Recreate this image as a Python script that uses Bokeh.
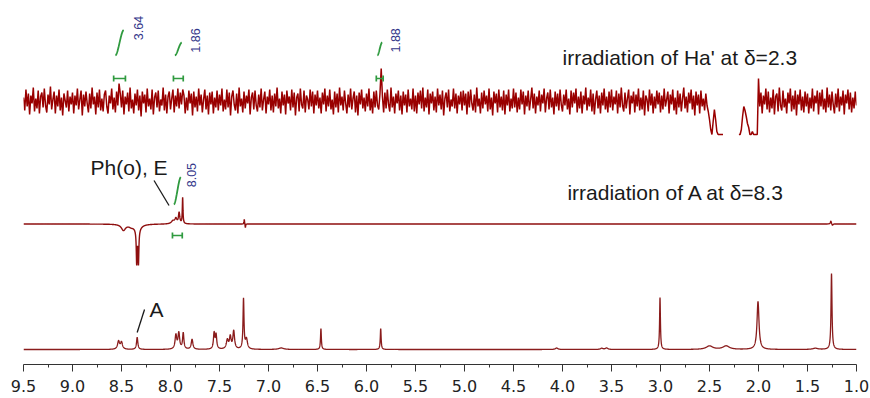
import numpy as np
from bokeh.plotting import figure
from bokeh.models import Range1d, FixedTicker, Label, PrintfTickFormatter
from bokeh.embed import file_html
from bokeh.resources import INLINE

# ---------------- data ----------------
x_ticks = [9.5, 9.0, 8.5, 8.0, 7.5, 7.0, 6.5, 6.0, 5.5, 5.0, 4.5, 4.0, 3.5, 3.0, 2.5, 2.0, 1.5, 1.0]
x_minor_ticks = [9.25, 8.75, 8.25, 7.75, 7.25, 6.75, 6.25, 5.75, 5.25, 4.75, 4.25, 3.75,
                 3.25, 2.75, 2.25, 1.75, 1.25]

# bottom: reference 1H spectrum (peak list)
ref_ppm = [8.53, 8.50, 8.34, 7.945, 7.915, 7.87, 7.78, 7.555, 7.535, 7.42, 7.39, 7.355,
           7.255, 7.225, 6.87, 6.465, 5.855, 4.06, 3.60, 3.55, 3.005, 2.50, 2.33, 2.005,
           1.42, 1.255]
ref_height = [8, 7, 12, 14, 16, 16, 10, 16, 14, 9, 12, 18,
              50, 10, 1.5, 21, 21, 1.5, 1.2, 1.5, 52, 3.5, 3.5, 48,
              1.2, 76]
ref_hwhm = [0.012, 0.012, 0.008, 0.01, 0.01, 0.008, 0.01, 0.008, 0.008, 0.012, 0.01, 0.01,
            0.006, 0.012, 0.03, 0.005, 0.005, 0.015, 0.015, 0.015, 0.005, 0.04, 0.04, 0.012,
            0.03, 0.006]

# middle: irradiation of A at 8.3 (peak list)
noe_a_ppm = [8.48, 8.40, 8.345, 8.327, 8.335, 7.975, 7.945, 7.912, 7.876, 7.247, 7.236,
             1.262, 1.245]
noe_a_height = [-6, -2, -33, -33, -6, 3, 5, 11, 26, 5, -4, 3, -1.5]
noe_a_hwhm = [0.025, 0.03, 0.005, 0.005, 0.035, 0.02, 0.012, 0.008, 0.004, 0.003, 0.003,
              0.006, 0.006]

# top: irradiation of Ha' at 2.3, sampled every 0.0125 ppm from 9.5 to 1.0 (40 per 0.5 ppm)
nan = float("nan")
noe_ha_start = 9.5
noe_ha_step = 0.0125
noe_ha_values = [
    4, -9, 12, -5, 8, -13, 6, -2, 14, -10, 3, -7, 11, -12, 5, 9, -6, 13, -4, -11,
    7, -3, 15, -8, 2, 10, -12, 6, -5, 12, -9, 4, -14, 8, 1, -6, 11, -10, 5, -3,
    9, -12, 6, -4, 13, -8, 2, 11, -14, 7, -5, 10, -2, -11, 8, -7, 14, -3, 5, -13,
    9, -6, 12, -9, 3, -10, 7, 11, -5, -12, 6, -2, 13, -8, 4, -11, 10, -4, 18, 8,
    -6, 11, -13, 5, -3, 9, -10, 14, -7, 2, -12, 8, -4, 12, -9, 6, -15, 10, -2, 7,
    -11, 13, -5, 3, -8, 12, -13, 4, 9, -6, 11, -10, 2, -4, 14, -9, 7, -12, 5, 10,
    -8, 3, 12, -11, 6, -5, 13, -7, 9, -3, 12, 6, -12, 4, -9, 11, -2, 8, -14, 10,
    -6, 5, -10, 13, -4, 7, -11, 2, 12, -8, 6, -13, 9, -3, 10, -12, 4, -6, 11, -9,
    7, -4, 13, -10, 2, -8, 12, -6, 9, -14, 5, 11, -3, -9, 8, -12, 14, -5, 3, -11,
    10, -7, 6, -2, 12, -13, 4, 9, -8, 11, -4, -10, 7, -6, 13, -9, 2, 10, -12, 5,
    -3, 12, -9, 6, -11, 8, -5, 14, -7, 3, -12, 10, -4, 7, -13, 11, -2, 5, -9, 12,
    -6, 9, -14, 4, 8, -10, 13, -3, -7, 11, -11, 6, 2, -8, 12, -5, 10, -12, 7, -4,
    11, -7, 4, -12, 9, -3, 13, -10, 6, -5, 12, -8, 2, -13, 10, -6, 8, -11, 14, -4,
    5, -9, 11, -2, -12, 7, -6, 13, -8, 3, 10, -11, 6, -14, 9, -3, 12, -7, 4, -10,
    8, -5, 13, -9, 3, -12, 10, -6, 11, -4, -8, 8, 33, 5, -11, 9, -7, 12, -3, -10,
    14, -6, 5, -12, 8, -2, 11, -9, 6, -13, 10, -4, 7, -11, 12, -5, 3, -8, 13, -10,
    6, -12, 9, -3, 11, -7, 14, -10, 4, -6, 12, -13, 8, -2, 10, -9, 5, -11, 13, -4,
    7, -8, 11, -14, 3, 9, -6, 12, -10, 2, -5, 13, -7, 8, -12, 6, -3, 10, -9, 11,
    -4, 8, -13, 10, -6, 12, -2, -9, 7, -11, 14, -5, 3, -12, 9, -7, 11, -3, 6, -10,
    13, -8, 4, -14, 10, -2, 8, -11, 12, -6, 5, -9, 11, -13, 7, -4, 12, -10, 3, -7,
    13, -6, 9, -11, 4, -8, 12, -3, 10, -13, 6, -5, 11, -9, 2, 14, -7, 8, -12, 5,
    -4, 11, -10, 7, -2, 13, -11, 3, 9, -8, 12, -6, 4, -13, 10, -5, 8, -9, 12, -3,
    -10, 7, -4, 12, -8, 3, -13, 11, -6, 9, -2, 13, -11, 5, -7, 10, -12, 6, -3, 14,
    -9, 4, -5, 12, -10, 8, -13, 2, 11, -7, 6, -12, 9, -4, 13, -8, 5, -11, 10, -6,
    12, -9, 5, -3, 11, -12, 8, -6, 14, -4, -10, 9, -7, 3, 12, -13, 6, -2, 10, -11,
    7, -5, 13, -9, 4, -8, 11, -14, 6, 2, -10, 12, -4, 8, -12, 5, -7, 11, -3, 9,
    -11, 6, -8, 13, -5, 2, 10, -12, 7, -3, 12, -9, 4, -13, 11, -6, 8, -10, 3, 14,
    -7, 5, -11, 9, -2, 12, -8, 6, -14, 10, -4, 7, -12, 11, -5, 3, -9, 8, -4, -10,
    -18, -28, -33, -20, -8, -18, -30, -33, -33, -33, -33, -33,
    nan, nan, nan, nan, nan, nan, nan, nan, nan, nan, nan, nan,
    -33, -33, -28, -15, -5, -9, -15, -22, -26, -33, -33, -30, -33, -33, -33, -33,
    23, -5, 9, -12, 6, -3, 13, -8, 10, -11, 4, -7, 12, -13, 5, 8, -10, 14, -4, -9,
    11, -6, 3, -12, 9, -2, 13, -10, 6, -8, 11, -14, 7, -3, 12, -9, 5, -11, 10, -5,
    8, -12, 4, -7, 13, -10, 6, -2, 11, -13, 9, -5, 12, -8, 3, -11, 14, -6, 7, -9,
    10, -3, -12, 8, -6, 13, -10, 5, -4, 11, -13, 7, -2, 12, -8, 9, -11, 4, -7, 10,
    -4,
]

# integrals
top_int_labels = ["3.64", "1.86", "1.88"]
top_int_values = [3.64, 1.86, 1.88]
top_int_from = [8.58, 7.97, 5.90]
top_int_to = [8.46, 7.87, 5.83]

mid_int_labels = ["8.05"]
mid_int_values = [8.05]
mid_int_from = [7.98]
mid_int_to = [7.88]

# ---------------- layout / style ----------------
BASE_REF, BASE_A, BASE_HA = 15, 140.5, 263
GREEN = "#2f9a3f"
NAVY = "#34378a"
INK = "#1a1a1a"

p = figure(width=870, height=398, x_range=Range1d(9.5, 1.0), y_range=Range1d(0, 356),
           output_backend="svg", toolbar_location=None, y_axis_location=None,
           min_border_left=23, min_border_right=14, min_border_top=8, min_border_bottom=34)
p.grid.visible = False
p.outline_line_color = None
p.background_fill_color = "white"
p.border_fill_color = "white"

ax = p.xaxis[0]
ax.ticker = FixedTicker(ticks=x_ticks, minor_ticks=x_minor_ticks)
ax.formatter = PrintfTickFormatter(format="%.1f")
ax.axis_line_color = "#333333"
ax.major_tick_line_color = "#333333"
ax.minor_tick_line_color = "#333333"
ax.major_tick_out = 7
ax.major_tick_in = 0
ax.minor_tick_out = 3
ax.minor_tick_in = 0
ax.major_label_standoff = 8
ax.major_label_text_font = "DejaVu Sans"
ax.major_label_text_font_size = "16px"
ax.major_label_text_color = "#222222"


def lorentz_sum(x, centers, heights, widths):
    y = np.zeros_like(x)
    for c, h, w in zip(centers, heights, widths):
        y += h / (1.0 + ((x - c) / w) ** 2)
    return y


xs = np.linspace(9.5, 1.0, 8501)

# bottom trace
p.line(xs, BASE_REF + lorentz_sum(xs, ref_ppm, ref_height, ref_hwhm),
       line_color="#8a1c1c", line_width=1.3)

# middle trace
p.line(xs, BASE_A + lorentz_sum(xs, noe_a_ppm, noe_a_height, noe_a_hwhm),
       line_color="#8e0f0f", line_width=1.4)

# top trace
ha_x = noe_ha_start - noe_ha_step * np.arange(len(noe_ha_values))
ha_y = BASE_HA + np.array(noe_ha_values, dtype=float)
p.line(ha_x, ha_y, line_color="#990000", line_width=1.5)


def integral(a, b, val, scale, y_bracket, y_curve, label, label_dx):
    p.segment(x0=[a], y0=[y_bracket], x1=[b], y1=[y_bracket], line_color=GREEN, line_width=1.7)
    p.segment(x0=[a, b], y0=[y_bracket - 3, y_bracket - 3], x1=[a, b], y1=[y_bracket + 3, y_bracket + 3],
              line_color=GREEN, line_width=1.7)
    inset = 0.15 * (a - b)
    t = np.linspace(0, 1, 30)
    s = t * t * (3 - 2 * t)
    cx = (a - inset) - t * ((a - inset) - (b + inset))
    h = val * scale
    p.line(cx, y_curve + h * (0.15 * t + 0.85 * s), line_color=GREEN, line_width=1.8)
    p.add_layout(Label(x=b - label_dx, y=y_curve + h + 2, text=label, angle=np.pi / 2,
                       text_align="center", text_baseline="middle",
                       text_font="Liberation Sans", text_font_size="12.5px", text_color=NAVY))


for a, b, v, lab in zip(top_int_from, top_int_to, top_int_values, top_int_labels):
    integral(a, b, v, 7.0, 286, 309, lab, 0.13)
for a, b, v, lab in zip(mid_int_from, mid_int_to, mid_int_values, mid_int_labels):
    integral(a, b, v, 3.4, 129, 160, lab, 0.09)

# leader lines
p.segment(x0=[8.168, 8.34], y0=[184, 32], x1=[8.015, 8.265], y1=[159, 55],
          line_color=INK, line_width=1.3)

for x, y, t in [(4.0, 307, "irradiation of Ha' at δ=2.3"),
                (3.95, 172, "irradiation of A at δ=8.3"),
                (8.816, 197, "Ph(o), E"),
                (8.214, 55, "A")]:
    p.add_layout(Label(x=x, y=y, text=t, text_align="left", text_baseline="middle",
                       text_font="Liberation Sans", text_font_size="21px", text_color=INK))

open("out.html", "w").write(file_html(p, INLINE))
